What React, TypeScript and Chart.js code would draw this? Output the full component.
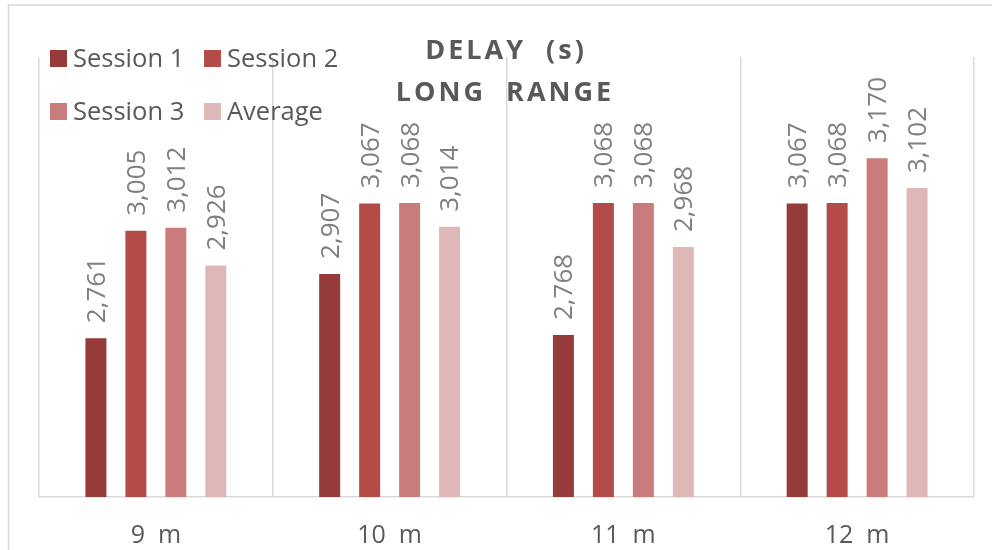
import React, { useEffect, useRef } from "react";
import { Chart, registerables } from "chart.js";

Chart.register(...registerables);

const categories = ["9  m", "10  m", "11  m", "12  m"];
const session1 = [2761, 2907, 2768, 3067];
const session2 = [3005, 3067, 3068, 3068];
const session3 = [3012, 3068, 3068, 3170];
const average = [2926, 3014, 2968, 3102];
const seriesNames = ["Session 1", "Session 2", "Session 3", "Average"];
const seriesColors = ["#953B3A", "#B34B49", "#C97C7B", "#E0B7B7"];
const yMin = 2400;
const yMax = 3400;
const titleLines = ["DELAY  (s)", "LONG  RANGE"];

const FONT = "'Open Sans', 'DejaVu Sans', sans-serif";

const overlayPlugin = {
  id: "overlay",
  beforeDraw(chart: any) {
    const ctx = chart.ctx;
    ctx.save();
    ctx.strokeStyle = "#d9d9d9";
    ctx.lineWidth = 1.5;
    ctx.strokeRect(8.5, 5, 1200, 800);
    ctx.restore();
  },
  afterDatasetsDraw(chart: any) {
    const ctx = chart.ctx;
    ctx.save();
    // data labels
    ctx.fillStyle = "#7f7f7f";
    ctx.font = `26px ${FONT}`;
    ctx.textAlign = "left";
    ctx.textBaseline = "middle";
    chart.data.datasets.forEach((ds: any, di: number) => {
      const meta = chart.getDatasetMeta(di);
      meta.data.forEach((bar: any, i: number) => {
        const v = ds.data[i] as number;
        ctx.save();
        ctx.translate(bar.x + 1.5, bar.y - 15);
        ctx.rotate(-Math.PI / 2);
        ctx.fillText(v.toLocaleString("en-US"), 0, 0);
        ctx.restore();
      });
    });
    // title
    ctx.fillStyle = "#595959";
    ctx.font = `bold 27px ${FONT}`;
    ctx.textAlign = "center";
    (ctx as any).letterSpacing = "3px";
    ctx.fillText(titleLines[0], 506, 51);
    ctx.fillText(titleLines[1], 505, 93);
    (ctx as any).letterSpacing = "0px";
    // legend
    const pos = [
      [50, 58.5],
      [204, 58.5],
      [50, 111.5],
      [204, 111.5],
    ];
    ctx.font = `25.5px ${FONT}`;
    ctx.textAlign = "left";
    ctx.textBaseline = "middle";
    seriesNames.forEach((name, i) => {
      const [x, y] = pos[i];
      ctx.fillStyle = seriesColors[i];
      ctx.fillRect(x, y - 8.5, 17, 17);
      ctx.fillStyle = "#595959";
      ctx.fillText(name, x + 23, y + 1);
    });
    ctx.restore();
  },
};

export default function App() {
  const ref = useRef<HTMLCanvasElement | null>(null);
  useEffect(() => {
    if (!ref.current) return;
    const seriesData = [session1, session2, session3, average];
    const chart = new Chart(ref.current, {
      type: "bar",
      data: {
        labels: categories,
        datasets: seriesNames.map((name, i) => ({
          label: name,
          data: seriesData[i],
          backgroundColor: seriesColors[i],
          categoryPercentage: 0.684,
          barPercentage: 0.525,
        })),
      },
      options: {
        responsive: false,
        animation: false,
        layout: { padding: { left: 39, right: 18, top: 57, bottom: 0 } },
        plugins: {
          legend: { display: false },
          title: { display: false },
          tooltip: { enabled: false },
        },
        scales: {
          x: {
            grid: { color: "#d9d9d9", lineWidth: 1.5, drawTicks: false, offset: true },
            border: { color: "#d9d9d9", width: 1.5 },
            ticks: {
              font: { size: 25, family: FONT },
              color: "#595959",
              padding: 24,
              maxRotation: 0,
            },
            afterFit: (scale: any) => {
              scale.height = 53;
            },
          },
          y: { display: false, min: yMin, max: yMax },
        },
      },
      plugins: [overlayPlugin],
    });
    return () => chart.destroy();
  }, []);
  return (
    <canvas
      ref={ref}
      width={992}
      height={550}
      style={{ position: "absolute", left: 0, top: 0, display: "block" }}
    />
  );
}
